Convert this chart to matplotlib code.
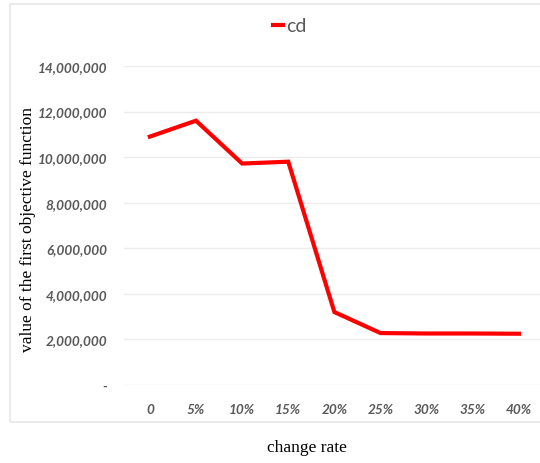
import matplotlib
matplotlib.use("Agg")
import matplotlib.pyplot as plt
from matplotlib.patches import Rectangle
from matplotlib.ticker import FuncFormatter

categories = ["0", "5%", "10%", "15%", "20%", "25%", "30%", "35%", "40%"]
cd_values = [10900000, 11600000, 9720000, 9800000, 3200000, 2280000, 2260000, 2260000, 2250000]
y_ticks = [0, 2000000, 4000000, 6000000, 8000000, 10000000, 12000000, 14000000]

W, H = 540, 464
fig = plt.figure(figsize=(W / 100, H / 100), dpi=100)

# chart frame
fig.patches.append(Rectangle((10 / W, 1 - 423 / H), 540 / W, (423 - 5) / H,
                             transform=fig.transFigure, fill=False,
                             edgecolor="#E8E8E8", linewidth=1.2, zorder=0))

ax = fig.add_axes([124 / W, 1 - 386 / H, (542 - 124) / W, (386 - 67) / H])
x = list(range(len(categories)))
ax.plot(x, cd_values, color="#FF0000", linewidth=3, solid_joinstyle="miter", label="cd")
ax.set_xlim(-0.56, 8.5)
ax.set_ylim(0, 14000000)
ax.set_yticks(y_ticks)
ax.yaxis.set_major_formatter(FuncFormatter(lambda v, p: "-" if v == 0 else f"{int(v):,}"))
ax.set_xticks(x)
ax.set_xticklabels(categories)
ax.grid(axis="y", color="#ECECEC", linewidth=1)
ax.set_axisbelow(True)
for s in ax.spines.values():
    s.set_visible(False)
ax.tick_params(length=0)
ax.tick_params(axis="y", pad=12)
ax.tick_params(axis="x", pad=13)
for lbl in ax.get_xticklabels() + ax.get_yticklabels():
    lbl.set_fontfamily("Lato")
    lbl.set_fontstyle("italic")
    lbl.set_fontweight("bold")
    lbl.set_fontsize(9.8)
    lbl.set_color("#595959")

leg = ax.legend(loc="center", bbox_to_anchor=(290 / W, 1 - 27 / H), bbox_transform=fig.transFigure,
                frameon=False, handlelength=0.5, handletextpad=0.2,
                prop={"family": "Lato", "size": 14})
for t in leg.get_texts():
    t.set_color("#595959")

fig.text(28 / W, 1 - 230 / H, "value of the first objective function", rotation=90,
         ha="center", va="center", family="Liberation Serif", fontsize=12.5)
fig.text(307 / W, 1 - 448 / H, "change rate", ha="center", va="center",
         family="Liberation Serif", fontsize=12.5)

fig.savefig("out.png", dpi=100, facecolor="white")
